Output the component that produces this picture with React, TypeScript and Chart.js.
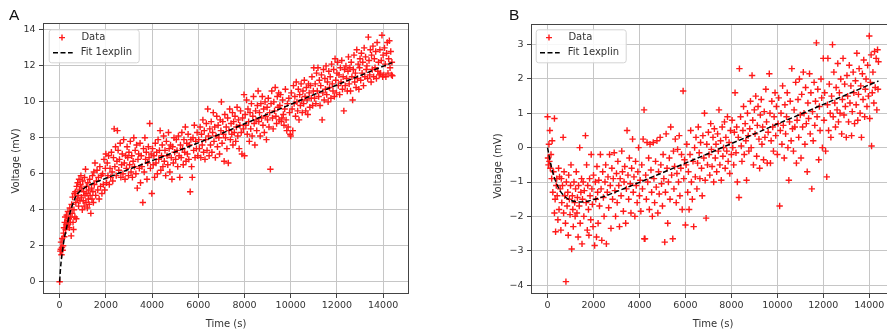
import React, { useEffect, useRef } from 'react';
import { Chart, registerables } from 'chart.js';

Chart.register(...registerables);

const FONT = '"DejaVu Sans", sans-serif';

const timeTicks = [0, 2000, 4000, 6000, 8000, 10000, 12000, 14000];
const voltTicksA = [0, 2, 4, 6, 8, 10, 12, 14];
const voltTicksB = [-4, -3, -2, -1, 0, 1, 2, 3];
const legendLabels = ['Data', 'Fit 1explin'];
const xTitle = 'Time (s)';
const yTitle = 'Voltage (mV)';

// Panel A: measured points [time s, voltage mV]
const pointsA: number[][] = [
  [0,0],[30,1.7],[50,1.8],[60,2.2],[80,1.5],[100,1.9],[110,2.4],[130,1.75],[150,2.0],[170,2.7],[190,3.0],[200,2.5],[220,3.3],[240,3.6],[260,2.9],[280,3.2],[300,3.7],[320,3.1],[340,3.4],[360,3.9],[380,3.2],[400,3.5],[420,3.0],[440,4.1],[460,3.3],[480,3.6],[500,2.55],
  [520,4.3],[540,3.8],[560,4.7],[580,3.3],[600,2.9],[620,4.0],[640,4.9],[660,3.6],[680,5.0],[700,4.4],[720,3.5],[740,5.3],[760,4.6],[780,5.5],[800,4.8],[820,4.2],[840,5.7],[860,5.1],[880,4.5],[900,5.4],[920,5.9],[940,4.7],[960,5.2],[980,4.0],[1000,5.6],
  [1020,4.5],[1040,5.0],[1060,4.2],[1080,5.8],[1100,4.8],[1120,6.25],[1140,4.4],[1160,5.3],[1180,4.9],[1200,4.1],[1220,5.5],[1240,4.6],[1260,5.1],[1280,4.3],[1300,5.7],[1320,4.8],[1350,3.8],[1380,5.2],[1400,4.6],[1420,5.9],[1440,5.0],[1460,4.4],[1480,6.1],[1500,5.4],
  [1530,6.6],[1560,4.8],[1590,5.6],[1620,6.2],[1650,5.1],[1680,5.8],[1710,4.6],[1740,6.4],[1770,5.3],[1800,5.9],[1830,4.9],[1860,6.0],[1890,5.4],[1920,6.8],[1950,5.1],[1980,6.3],[2000,7.1],
  [2030,5.5],[2060,6.6],[2090,5.9],[2120,7.0],[2150,5.4],[2180,6.3],[2210,5.8],[2240,7.2],[2270,6.1],[2300,5.6],[2330,6.9],[2360,8.5],[2390,6.4],[2420,7.5],[2450,5.9],[2480,6.7],[2500,8.4],
  [2530,7.3],[2560,6.2],[2590,6.8],[2620,7.7],[2650,5.8],[2680,6.5],[2710,7.1],[2740,6.0],[2770,7.9],[2800,6.6],[2830,5.7],[2860,7.0],[2890,6.3],[2920,7.5],[2950,6.9],[2980,5.9],[3000,7.2],
  [3030,6.5],[3060,7.8],[3090,6.1],[3120,7.0],[3150,5.8],[3180,6.7],[3210,8.0],[3240,6.4],[3270,7.3],[3300,6.0],[3330,7.6],[3360,5.2],[3390,6.8],[3420,7.1],[3450,6.3],[3480,7.7],[3500,5.5],
  [3530,7.0],[3560,6.4],[3600,4.4],[3630,7.4],[3660,6.1],[3690,8.0],[3720,6.8],[3750,7.2],[3780,5.7],[3810,6.6],[3840,7.5],[3870,6.9],[3900,8.8],[3930,6.3],[3960,7.1],[3990,4.9],
  [4020,7.4],[4050,6.5],[4080,7.0],[4110,5.8],[4140,7.7],[4170,6.6],[4200,7.2],[4230,6.0],[4260,7.9],[4290,6.8],[4320,7.3],[4350,8.4],[4380,6.2],[4410,7.0],[4440,7.6],[4470,6.4],[4500,8.1],
  [4530,6.7],[4560,7.3],[4590,5.9],[4620,7.8],[4650,7.0],[4680,6.5],[4710,8.3],[4740,7.4],[4770,6.1],[4800,7.6],[4830,6.9],[4860,5.7],[4890,7.5],[4920,6.6],[4950,8.0],[4980,7.2],
  [5020,6.8],[5050,7.9],[5080,7.3],[5110,6.4],[5140,8.1],[5170,7.0],[5200,5.8],[5230,7.6],[5260,6.9],[5290,8.3],[5320,7.4],[5350,6.5],[5380,7.9],[5410,7.2],[5440,8.6],[5470,6.7],[5500,7.7],
  [5530,7.1],[5560,8.2],[5590,6.8],[5620,7.6],[5650,5.0],[5680,7.9],[5710,6.4],[5740,5.8],[5770,8.0],[5800,7.3],[5830,8.7],[5860,6.9],[5890,7.8],[5920,7.4],[5950,8.3],[5980,7.0],
  [6020,7.9],[6050,7.4],[6080,8.6],[6110,6.9],[6140,8.2],[6170,7.6],[6200,9.0],[6230,7.2],[6260,8.4],[6290,6.8],[6320,7.9],[6350,8.8],[6380,7.3],[6410,9.6],[6440,8.1],[6470,7.0],[6500,8.5],
  [6530,7.6],[6560,8.9],[6590,7.2],[6620,8.3],[6650,9.4],[6680,7.8],[6710,8.6],[6740,6.9],[6770,8.1],[6800,9.2],[6830,7.5],[6860,8.7],[6890,8.0],[6920,7.1],[6950,9.0],[6980,8.4],[7000,10.0],
  [7030,7.7],[7060,8.9],[7090,8.2],[7120,6.7],[7150,9.3],[7180,8.0],[7210,8.6],[7240,7.4],[7270,9.1],[7300,6.6],[7330,8.4],[7360,9.6],[7390,7.9],[7420,8.8],[7450,8.2],[7480,9.4],[7500,7.6],
  [7530,8.9],[7560,8.3],[7590,9.2],[7620,7.8],[7650,8.6],[7680,9.7],[7710,8.1],[7740,9.0],[7770,7.4],[7800,8.7],[7830,9.5],[7860,8.3],[7890,7.1],[7920,9.1],[7950,8.5],[7980,10.4],[8000,7.0],
  [8030,9.3],[8060,8.7],[8090,10.1],[8120,8.2],[8150,9.6],[8180,8.9],[8210,7.8],[8240,9.4],[8270,8.5],[8300,9.9],[8330,8.1],[8360,9.2],[8390,10.3],[8420,8.8],[8450,7.6],[8480,9.5],[8500,9.0],
  [8530,8.4],[8560,9.8],[8590,10.6],[8620,8.9],[8650,9.4],[8680,8.1],[8710,9.9],[8740,9.1],[8770,10.3],[8800,8.7],[8830,9.6],[8860,8.3],[8890,10.0],[8920,9.2],[8950,7.9],[8980,9.7],[9000,9.0],
  [9030,10.2],[9060,8.6],[9090,9.4],[9120,6.25],[9150,9.9],[9180,10.6],[9210,9.1],[9240,8.5],[9270,10.0],[9300,9.5],[9330,10.8],[9360,9.2],[9390,8.8],[9420,10.3],[9450,9.7],[9480,10.5],[9500,9.0],
  [9530,9.8],[9560,10.4],[9590,8.9],[9620,9.1],[9650,10.1],[9680,9.3],[9710,8.7],[9740,9.6],[9770,10.7],[9800,9.0],[9830,8.4],[9860,9.9],[9890,8.6],[9920,10.2],[9950,9.4],[9980,8.2],[10000,8.1],
  [10030,10.5],[10060,9.6],[10090,8.4],[10120,10.9],[10150,9.9],[10180,10.3],[10210,9.2],[10240,11.1],[10270,10.0],[10300,9.5],[10330,10.7],[10360,9.0],[10390,10.4],[10420,9.8],[10450,11.0],[10480,10.1],[10500,9.4],
  [10530,10.6],[10560,9.9],[10590,11.2],[10620,10.3],[10650,9.5],[10680,10.8],[10710,10.1],[10740,9.3],[10770,11.0],[10800,10.5],[10830,9.7],[10860,10.9],[10890,10.2],[10920,11.4],[10950,9.8],[10980,10.6],[11000,11.9],
  [11030,10.2],[11060,11.0],[11090,9.9],[11120,11.6],[11150,10.6],[11180,11.9],[11210,10.3],[11240,11.2],[11270,9.8],[11300,10.9],[11330,11.5],[11360,9.0],[11390,10.5],[11420,11.8],[11450,10.1],[11480,11.3],[11500,10.7],
  [11530,12.0],[11560,10.4],[11590,11.1],[11620,10.0],[11650,11.7],[11680,10.8],[11710,11.4],[11740,10.2],[11770,12.1],[11800,11.0],[11830,10.6],[11860,11.8],[11890,10.3],[11920,12.4],[11950,11.2],[11980,10.5],[12000,11.6],
  [12030,12.2],[12060,10.9],[12090,11.5],[12120,10.4],[12150,11.9],[12180,11.1],[12210,12.3],[12240,10.7],[12270,11.4],[12300,9.5],[12330,11.8],[12360,10.9],[12390,12.0],[12420,11.3],[12450,10.6],[12480,11.7],[12500,12.5],
  [12530,11.0],[12560,11.9],[12590,10.6],[12620,12.2],[12650,11.4],[12680,10.1],[12710,11.8],[12740,12.6],[12770,11.1],[12800,11.6],[12830,10.8],[12860,12.9],[12890,11.3],[12920,12.1],[12950,10.7],[12980,11.9],[13000,12.4],
  [13030,11.2],[13060,12.7],[13090,11.6],[13120,12.2],[13150,10.9],[13180,13.0],[13210,11.4],[13240,12.5],[13270,11.8],[13300,12.0],[13330,11.3],[13360,13.6],[13390,12.3],[13420,11.5],[13450,12.9],[13480,11.1],[13500,12.6],
  [13530,11.8],[13560,13.1],[13590,11.4],[13620,12.4],[13650,11.9],[13680,12.8],[13710,11.3],[13740,13.3],[13770,11.7],[13800,12.2],[13830,11.5],[13860,12.9],[13890,11.6],[13920,12.3],[13950,13.7],[13980,11.4],[14000,12.6],
  [14030,11.5],[14060,13.0],[14090,12.1],[14120,11.4],[14150,12.7],[14180,13.3],[14210,11.6],[14240,12.4],[14270,13.4],[14300,11.9],[14330,12.8],[14360,11.5],[14380,12.2],[14400,11.45],
];

// Panel A: fitted curve
const fitA: number[][] = [
  [0,0],[30,0.6],[60,1.05],[120,1.7],[180,2.25],[260,2.75],[350,3.3],[450,3.85],[550,4.25],[650,4.6],[750,4.85],[850,5.0],[1000,5.15],[1250,5.35],[1500,5.5],[2000,5.75],[2500,6.0],[3000,6.25],[4000,6.73],[5000,7.22],[6000,7.72],[7000,8.24],[8000,8.78],[9000,9.32],[10000,9.86],[11000,10.4],[12000,10.94],[13000,11.46],[14000,11.98],[14400,12.18],
];

// Panel B: measured points [time s, voltage mV]
const pointsB: number[][] = [
  [0,0.9],[20,-0.3],[40,-0.5],[60,0.1],[80,-0.4],[100,0.5],[120,-0.6],[150,-0.2],[180,-0.9],[200,0.2],[230,-1.3],[260,-0.7],[300,0.85],[300,-1.9],[330,-1.5],[350,-2.45],[380,-1.1],[400,-0.9],[420,-1.4],[450,-2.1],[480,-0.6],[500,-1.8],[520,-0.85],
  [550,-1.2],[580,-2.4],[600,-0.9],[620,-1.6],[650,-1.1],[680,0.3],[700,-1.9],[720,-0.7],[750,-1.4],[780,-2.2],[800,-3.9],[820,-1.0],[850,-1.7],[880,-1.3],[900,-2.55],[920,-0.8],[950,-1.5],[980,-1.95],[1000,-1.1],[1020,-0.5],[1050,-2.95],[1080,-1.4],[1100,-1.8],[1120,-2.3],[1150,-1.0],[1180,-1.6],[1200,-2.0],[1220,-1.2],[1250,-0.7],[1280,-1.9],[1300,-1.45],[1330,-2.6],[1350,-1.1],[1380,-1.7],[1400,0.0],[1420,-2.2],[1450,-1.3],[1480,-0.9],[1500,-2.8],
  [1520,-1.5],[1550,-1.0],[1580,-2.0],[1600,-1.25],[1650,0.35],[1680,-1.6],[1700,-0.5],[1730,-2.4],[1750,-1.1],[1780,-1.8],[1800,-2.55],[1830,-0.9],[1850,-1.4],[1880,-2.1],[1900,-0.2],[1930,-1.2],[1950,-1.65],[1980,-2.3],[2000,-0.8],[2050,-2.85],[2080,-1.0],[2100,-1.5],[2130,-2.6],[2150,-0.55],[2180,-1.3],[2200,-2.2],[2230,-0.95],[2260,-1.7],[2300,-0.2],[2330,-1.2],[2360,-2.7],[2400,-0.7],[2430,-1.45],[2460,-2.0],[2500,-1.0],[2530,-0.5],[2560,-2.8],[2600,-1.3],[2630,-0.85],[2660,-1.75],[2700,-0.2],[2730,-1.1],[2760,-2.35],[2800,-0.6],[2830,-1.5],[2860,-0.9],[2900,-0.15],[2930,-1.25],[2960,-2.0],[3000,-0.75],
  [3030,-1.6],[3060,-0.4],[3100,-1.1],[3130,-2.3],[3160,-0.9],[3200,-1.4],[3230,-0.1],[3260,-0.7],[3300,-1.85],[3330,-1.0],[3360,-0.55],[3400,-2.2],[3430,-1.2],[3460,0.5],[3500,-0.8],[3530,-1.5],[3560,-0.3],[3600,-1.05],[3630,-1.9],[3660,-0.6],[3700,0.25],[3730,-1.3],[3760,-0.85],[3800,-2.0],[3830,-0.4],[3860,-1.1],[3900,-1.6],[3930,-0.7],[3960,0.0],[4000,-1.4],[4030,-0.95],[4060,-1.85],[4100,-0.5],[4130,-1.2],[4160,0.25],[4200,1.1],[4210,-2.65],[4240,-2.65],[4270,-0.8],[4300,-1.5],[4330,0.15],[4360,-1.0],[4400,-0.3],[4430,-1.8],[4460,0.1],[4500,-0.65],
  [4530,-1.3],[4560,-2.0],[4600,0.15],[4630,-0.9],[4660,-1.6],[4700,-0.4],[4730,-1.15],[4760,0.2],[4800,-1.9],[4830,-0.7],[4860,-1.35],[4900,0.3],[4930,-0.5],[4960,-1.05],[5000,-1.7],[5030,-0.2],[5060,-0.9],[5100,-2.75],[5130,-1.3],[5160,0.4],[5200,-0.6],[5230,-2.2],[5260,-1.0],[5300,-0.3],[5330,-1.5],[5360,0.6],[5400,-0.8],[5450,-2.65],[5480,-0.1],[5500,-1.2],[5530,-0.55],[5560,0.25],[5600,-1.6],[5630,-0.75],[5660,-0.05],[5700,-1.0],[5730,0.35],[5760,-1.4],[5800,-0.6],[5830,-0.2],[5860,-1.8],[5900,1.65],[5930,-0.9],[5960,-0.35],[6000,-2.25],
  [6030,-0.5],[6060,0.1],[6100,-1.3],[6130,-0.7],[6160,-1.8],[6200,-0.2],[6230,0.5],[6260,-1.0],[6300,-1.5],[6330,-0.4],[6360,-2.3],[6400,0.0],[6430,-0.85],[6460,0.3],[6500,-1.2],[6530,-0.45],[6560,0.6],[6600,-0.15],[6630,-0.9],[6660,0.15],[6700,-0.6],[6730,-1.4],[6760,0.35],[6800,-0.3],[6830,1.0],[6860,-0.95],[6900,-2.05],[6930,0.1],[6960,-0.5],[7000,0.45],[7030,-0.2],[7060,-0.8],[7100,0.7],[7130,-0.05],[7160,-0.55],[7200,0.3],[7230,-1.0],[7260,0.55],[7300,-0.3],[7330,0.1],[7360,-0.7],[7400,0.4],[7430,-0.1],[7460,1.1],[7500,-0.5],[7530,0.2],[7560,-0.95],[7600,0.6],[7630,-0.25],[7660,0.0],[7700,0.75],[7730,-0.6],[7760,0.3],[7800,-0.1],[7830,0.9],[7860,-0.4],[7900,0.15],[7930,-0.75],[7960,0.5],[8000,-0.2],
  [8030,0.8],[8060,0.0],[8100,-0.5],[8130,0.45],[8160,1.6],[8200,-0.15],[8230,0.6],[8260,-1.0],[8300,0.3],[8330,-1.45],[8350,2.3],[8400,0.9],[8430,0.05],[8460,-0.4],[8500,0.5],[8530,1.2],[8560,-0.2],[8600,0.7],[8630,0.2],[8660,-0.95],[8700,1.0],[8730,0.35],[8760,-0.1],[8800,0.55],[8830,1.35],[8860,0.0],[8900,2.1],[8930,0.8],[8960,-0.5],[9000,1.1],[9030,0.4],[9060,1.5],[9100,-0.25],[9130,0.65],[9160,1.2],[9200,0.25],[9230,-0.6],[9260,0.95],[9300,1.4],[9330,0.1],[9360,0.6],[9400,-0.35],[9430,1.05],[9460,0.3],[9500,1.7],[9530,0.75],[9560,-0.45],[9600,0.45],[9650,2.15],[9680,1.0],[9700,-0.45],[9730,0.2],[9760,1.35],[9800,0.6],[9830,-0.1],[9860,0.9],[9900,1.6],[9930,0.35],[9960,1.2],[10000,-0.2],
  [10030,0.7],[10060,1.45],[10100,-1.7],[10130,0.5],[10160,1.0],[10200,0.1],[10230,1.8],[10260,0.65],[10300,-0.3],[10330,1.25],[10360,0.4],[10400,0.9],[10430,1.6],[10460,0.0],[10500,-0.95],[10530,0.75],[10560,1.35],[10600,0.2],[10630,2.3],[10660,0.55],[10700,-0.1],[10730,1.1],[10760,0.6],[10800,1.9],[10830,-0.45],[10860,0.8],[10900,1.4],[10930,0.3],[10960,2.0],[11000,0.95],[11030,-0.3],[11060,1.55],[11100,0.6],[11130,2.2],[11160,1.0],[11200,0.1],[11230,1.75],[11260,0.7],[11300,-0.7],[11330,1.3],[11360,0.85],[11400,2.15],[11430,0.4],[11460,1.6],[11500,-1.2],[11530,1.05],[11560,0.2],[11600,1.9],[11630,0.65],[11660,1.35],[11700,3.05],[11730,0.9],[11760,1.7],[11800,-0.35],[11830,1.2],[11860,0.5],[11900,2.0],[11930,1.45],[11960,0.0],[12000,2.6],
  [12030,0.8],[12060,1.6],[12100,-0.1],[12150,-0.85],[12180,1.25],[12200,2.6],[12230,0.5],[12260,1.85],[12300,1.0],[12330,0.3],[12360,1.5],[12400,3.0],[12430,0.9],[12460,2.2],[12500,1.3],[12530,0.6],[12560,1.75],[12600,1.1],[12630,2.45],[12660,0.75],[12700,1.6],[12730,1.0],[12760,2.0],[12800,0.4],[12830,1.4],[12860,2.6],[12900,0.95],[12930,1.85],[12960,1.2],[13000,0.3],[13030,2.1],[13060,1.5],[13100,0.75],[13130,2.4],[13160,1.3],[13200,1.8],[13230,0.35],[13260,1.05],[13300,2.2],[13330,1.6],[13360,0.7],[13400,1.95],[13430,1.25],[13460,2.75],[13500,0.8],[13530,1.55],[13560,2.3],[13600,1.0],[13630,1.8],[13660,0.3],[13700,2.15],[13730,1.4],[13760,2.55],[13800,0.9],[13830,1.7],[13860,2.0],[13900,1.2],[13930,2.4],[13960,1.5],[14000,3.25],[14020,0.85],[14050,1.9],[14080,2.7],[14100,0.05],[14130,1.6],[14160,2.2],[14200,1.3],[14230,2.8],[14260,1.75],[14300,2.6],[14330,1.1],[14360,2.85],[14380,1.7],[14400,2.5],
];

// Panel B: fitted curve
const fitB: number[][] = [
  [0,0],[100,-0.35],[200,-0.65],[300,-0.88],[400,-1.06],[500,-1.2],[600,-1.31],[800,-1.45],[1000,-1.53],[1200,-1.57],[1400,-1.58],[1600,-1.57],[1800,-1.55],[2000,-1.51],[2500,-1.41],[3000,-1.28],[4000,-1.01],[5000,-0.73],[6000,-0.45],[7000,-0.17],[8000,0.12],[9000,0.4],[10000,0.69],[11000,0.97],[12000,1.26],[13000,1.54],[14000,1.83],[14400,1.94],
];

const frameLegendPlugin = {
  id: 'frameLegend',
  afterDraw(chart: any, _args: any, o: any) {
    const { ctx, chartArea: ca } = chart;
    ctx.save();
    // axes frame (all four spines)
    ctx.strokeStyle = '#444';
    ctx.lineWidth = 1;
    ctx.setLineDash([]);
    ctx.strokeRect(ca.left + 0.5, ca.top + 0.5, ca.right - ca.left - 1, ca.bottom - ca.top - 1);

    // y title
    ctx.save();
    ctx.translate(o.yTitleX, o.yTitleY);
    ctx.rotate(-Math.PI / 2);
    ctx.fillStyle = '#333';
    ctx.font = `10px ${FONT}`;
    ctx.textAlign = 'center';
    ctx.textBaseline = 'middle';
    ctx.fillText(yTitle, 0, 0);
    ctx.restore();

    // legend
    const x = ca.left + o.dx;
    const y = ca.top + o.dy;
    const w = 90, h = 33;
    ctx.beginPath();
    if (ctx.roundRect) ctx.roundRect(x + 0.5, y + 0.5, w, h, 2.5);
    else ctx.rect(x + 0.5, y + 0.5, w, h);
    ctx.fillStyle = 'rgba(255,255,255,0.85)';
    ctx.fill();
    ctx.strokeStyle = '#d4d4d4';
    ctx.lineWidth = 1;
    ctx.stroke();

    const ds = chart.data.datasets;
    // marker
    const mx = x + 13.3, my = y + 8.3, r = 3;
    ctx.strokeStyle = ds[1].borderColor;
    ctx.lineWidth = 1.4;
    ctx.beginPath();
    ctx.moveTo(mx - r, my); ctx.lineTo(mx + r, my);
    ctx.moveTo(mx, my - r); ctx.lineTo(mx, my + r);
    ctx.stroke();
    // dashed line
    ctx.strokeStyle = ds[0].borderColor;
    ctx.lineWidth = 1.5;
    ctx.setLineDash([5, 2.5]);
    ctx.beginPath();
    ctx.moveTo(x + 4.3, y + 23.5); ctx.lineTo(x + 24, y + 23.5);
    ctx.stroke();
    ctx.setLineDash([]);

    ctx.fillStyle = '#333';
    ctx.font = `10px ${FONT}`;
    ctx.textAlign = 'left';
    ctx.textBaseline = 'middle';
    ctx.fillText(ds[1].label, x + 32.7, y + 8.3);
    ctx.fillText(ds[0].label, x + 32, y + 23.5);
    ctx.restore();
  },
};

type PanelProps = {
  left: number; width: number; points: number[][]; fit: number[][];
  yMin: number; yMax: number; yTicks: number[]; yAxisWidth: number;
  padRight: number; padTop: number; legendDx: number; legendDy: number;
  yTitleX: number; yTitleY: number;
};

function Panel(p: PanelProps) {
  const ref = useRef<HTMLCanvasElement>(null);
  useEffect(() => {
    const tickFont = { family: FONT, size: 9.5 };
    const chart = new Chart(ref.current as HTMLCanvasElement, {
      type: 'scatter',
      data: {
        datasets: [
          {
            label: legendLabels[1],
            data: p.fit.map(([x, y]) => ({ x, y })),
            showLine: true,
            borderColor: '#000',
            borderWidth: 1.5,
            borderDash: [5, 2.5],
            pointRadius: 0,
            fill: false,
            cubicInterpolationMode: 'monotone',
            order: 0,
          } as any,
          {
            label: legendLabels[0],
            data: p.points.map(([x, y]) => ({ x, y })),
            showLine: false,
            pointStyle: 'cross',
            pointRadius: 3.2,
            borderColor: '#ff1a1a',
            backgroundColor: '#ff1a1a',
            borderWidth: 1.4,
            order: 1,
          } as any,
        ],
      },
      options: {
        animation: false,
        responsive: false,
        maintainAspectRatio: false,
        events: [],
        layout: { padding: { left: 0, right: p.padRight, top: p.padTop, bottom: 0 } },
        plugins: {
          legend: { display: false },
          tooltip: { enabled: false },
          frameLegend: { dx: p.legendDx, dy: p.legendDy, yTitleX: p.yTitleX, yTitleY: p.yTitleY },
        } as any,
        scales: {
          x: {
            type: 'linear',
            min: -720,
            max: 15120,
            afterBuildTicks: (s: any) => { s.ticks = timeTicks.map((v) => ({ value: v })); },
            afterFit: (s: any) => { s.height = 37; },
            grid: { color: '#c6c6c6', lineWidth: 1, tickColor: '#444', tickLength: 4, drawTicks: true },
            border: { display: false },
            ticks: {
              font: tickFont, color: '#333', padding: 2, maxRotation: 0, autoSkip: false,
              callback: (v: any) => String(v),
            },
            title: { display: true, text: xTitle, font: { family: FONT, size: 10 }, color: '#333', padding: { top: 0, bottom: 1 } },
          },
          y: {
            type: 'linear',
            min: p.yMin,
            max: p.yMax,
            afterBuildTicks: (s: any) => { s.ticks = p.yTicks.map((v) => ({ value: v })); },
            afterFit: (s: any) => { s.width = p.yAxisWidth; },
            grid: { color: '#c6c6c6', lineWidth: 1, tickColor: '#444', tickLength: 4, drawTicks: true },
            border: { display: false },
            ticks: {
              font: tickFont, color: '#333', padding: 3.5, autoSkip: false,
              callback: (v: any) => String(v).replace('-', '\u2212'),
            },
            title: { display: false },
          },
        },
      },
      plugins: [frameLegendPlugin],
    });
    return () => chart.destroy();
  }, []);
  return (
    <canvas
      ref={ref}
      width={p.width}
      height={331}
      style={{ position: 'absolute', left: p.left, top: 0, width: p.width, height: 331 }}
    />
  );
}

const labelStyle: React.CSSProperties = {
  position: 'absolute', top: 7, fontFamily: '"Liberation Sans", Arial, sans-serif',
  fontSize: 15.5, lineHeight: '16px', color: '#111',
};

export default function App() {
  return (
    <div style={{ position: 'fixed', left: 0, top: 0, width: 887, height: 331, overflow: 'hidden', background: '#fff' }}>
      <Panel left={0} width={440} points={pointsA} fit={fitA} yMin={-0.685} yMax={14.385}
        yTicks={voltTicksA} yAxisWidth={43} padRight={31} padTop={23} legendDx={5.7} legendDy={6.3}
        yTitleX={16} yTitleY={161} />
      <Panel left={447} width={460} points={pointsB} fit={fitB} yMin={-4.26} yMax={3.6}
        yTicks={voltTicksB} yAxisWidth={84} padRight={12} padTop={24} legendDx={4.7} legendDy={5.3}
        yTitleX={51.7} yTitleY={166} />
      <div style={{ ...labelStyle, left: 9 }}>A</div>
      <div style={{ ...labelStyle, left: 509 }}>B</div>
    </div>
  );
}
